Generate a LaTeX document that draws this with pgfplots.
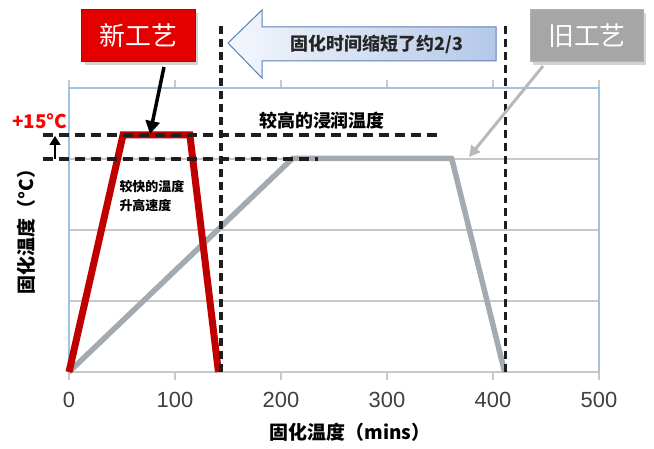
\documentclass[border=0pt]{standalone}
\usepackage{pgfplots}
\pgfplotsset{compat=1.18}
\usepackage{fontspec}
\setmainfont{Noto Sans CJK SC}
\newfontfamily\arial{Liberation Sans}
\usetikzlibrary{arrows.meta,shadows}

\definecolor{newred}{HTML}{C00000}
\definecolor{boxred}{HTML}{E50000}
\definecolor{oldgray}{HTML}{A3AAB2}
\definecolor{boxgray}{HTML}{A6A6A6}
\definecolor{frameblue}{HTML}{9DC3E6}
\definecolor{gridgray}{HTML}{C8C8C8}
\definecolor{dashc}{HTML}{1E1E1E}
\definecolor{arrowL}{HTML}{F4F7FC}
\definecolor{arrowR}{HTML}{B4C8E8}
\definecolor{arrowB}{HTML}{5B7DB8}

\begin{document}
\begin{tikzpicture}
\path[use as bounding box] (0,0) rectangle (654bp,449bp);

\begin{axis}[
    at={(69bp,77bp)}, anchor=origin,
    scale only axis,
    width=530bp, height=284bp,
    xmin=0, xmax=500, ymin=0, ymax=4,
    clip=false,
    axis line style={draw=none},
    xtick={0,100,...,500},
    ytick={0,1,2,3},
    yticklabels={},
    ytick style={draw=none},
    ymajorgrids,
    grid style={gridgray, line width=1.5bp},
    tick align=outside,
    major tick length=8bp,
    xtick style={gridgray, line width=1.2bp},
    xticklabel style={font=\arial\fontsize{22}{24}\selectfont, text=black!75, yshift=-9bp},
    /pgf/number format/assume math mode=true,
]
% frame (left, top, right)
\draw[frameblue, line width=1.5bp] (axis cs:0,0) -- (axis cs:0,4) -- (axis cs:500,4) -- (axis cs:500,0);

% old process
\addplot[draw=oldgray, line width=5.5bp, line join=round] coordinates {
    (0,0) (211,3.01) (361,3.01) (411,0)
};
% new process
\addplot[draw=newred, line width=7bp, line join=miter] coordinates {
    (0,0) (51,3.34) (114,3.34) (141,0)
};

% reference dashed lines
\draw[dashc, line width=3.4bp, dash pattern=on 10bp off 6bp] (axis cs:-25,3.34) -- (axis cs:350,3.34);
\draw[dashc, line width=3.4bp, dash pattern=on 10bp off 6bp] (axis cs:-25,3.0) -- (axis cs:235,3.0);
\draw[dashc, line width=3.4bp, dash pattern=on 8bp off 5bp] (axis cs:143.4,0) -- (axis cs:143.4,4.92);
\draw[dashc, line width=3.4bp, dash pattern=on 8bp off 5bp] (axis cs:412,0) -- (axis cs:412,4.92);
\end{axis}

\begin{scope}[x=1bp,y=1bp]
% +15 C marker
\draw[black, line width=1.5bp, -{Triangle[length=9bp,width=11bp]}] (55,290) -- (55,313);
\node[text=red, font=\bfseries\fontsize{19}{20}\selectfont] at (40,328) {+15°C};

% axis titles
\node[rotate=90, font=\bfseries\fontsize{19}{21}\selectfont] at (26,222) {固化温度（°C）};
\node[font=\bfseries\fontsize{19}{21}\selectfont] at (350,17) {固化温度（mins）};

% inner annotations
\node[font=\bfseries\fontsize{18}{20}\selectfont] at (322,328) {较高的浸润温度};
\node[font=\bfseries\fontsize{13}{19}\selectfont, align=left, anchor=north west] at (116,272) {较快的温度\\升高速度};

% big left arrow
\draw[arrowB, line width=1bp, left color=arrowL, right color=arrowR]
    (228,406) -- (262,439) -- (262,422) -- (496,422) -- (496,388) -- (262,388) -- (262,371) -- cycle;
\node[font=\bfseries\fontsize{18}{20}\selectfont, text=black!85] at (377,405) {固化时间缩短了约2/3};

% new process label
\node[draw=newred, fill=boxred, line width=1bp, minimum width=113bp, minimum height=52bp,
      text=white, font=\fontsize{26}{28}\selectfont, drop shadow={opacity=0.35}] at (138.5,413) {新工艺};
\draw[black, line width=3.5bp, -{Triangle[length=13bp,width=14bp]}] (164,382) -- (150,315);

% old process label
\node[draw=gray!60, fill=boxgray, line width=1bp, minimum width=113bp, minimum height=52bp,
      text=white, font=\fontsize{26}{28}\selectfont, drop shadow={opacity=0.35}] at (587,413) {旧工艺};
\draw[gray!55, line width=3bp, -{Triangle[length=11bp,width=11bp]}] (543,383) -- (469,292);
\end{scope}
\end{tikzpicture}
\end{document}
